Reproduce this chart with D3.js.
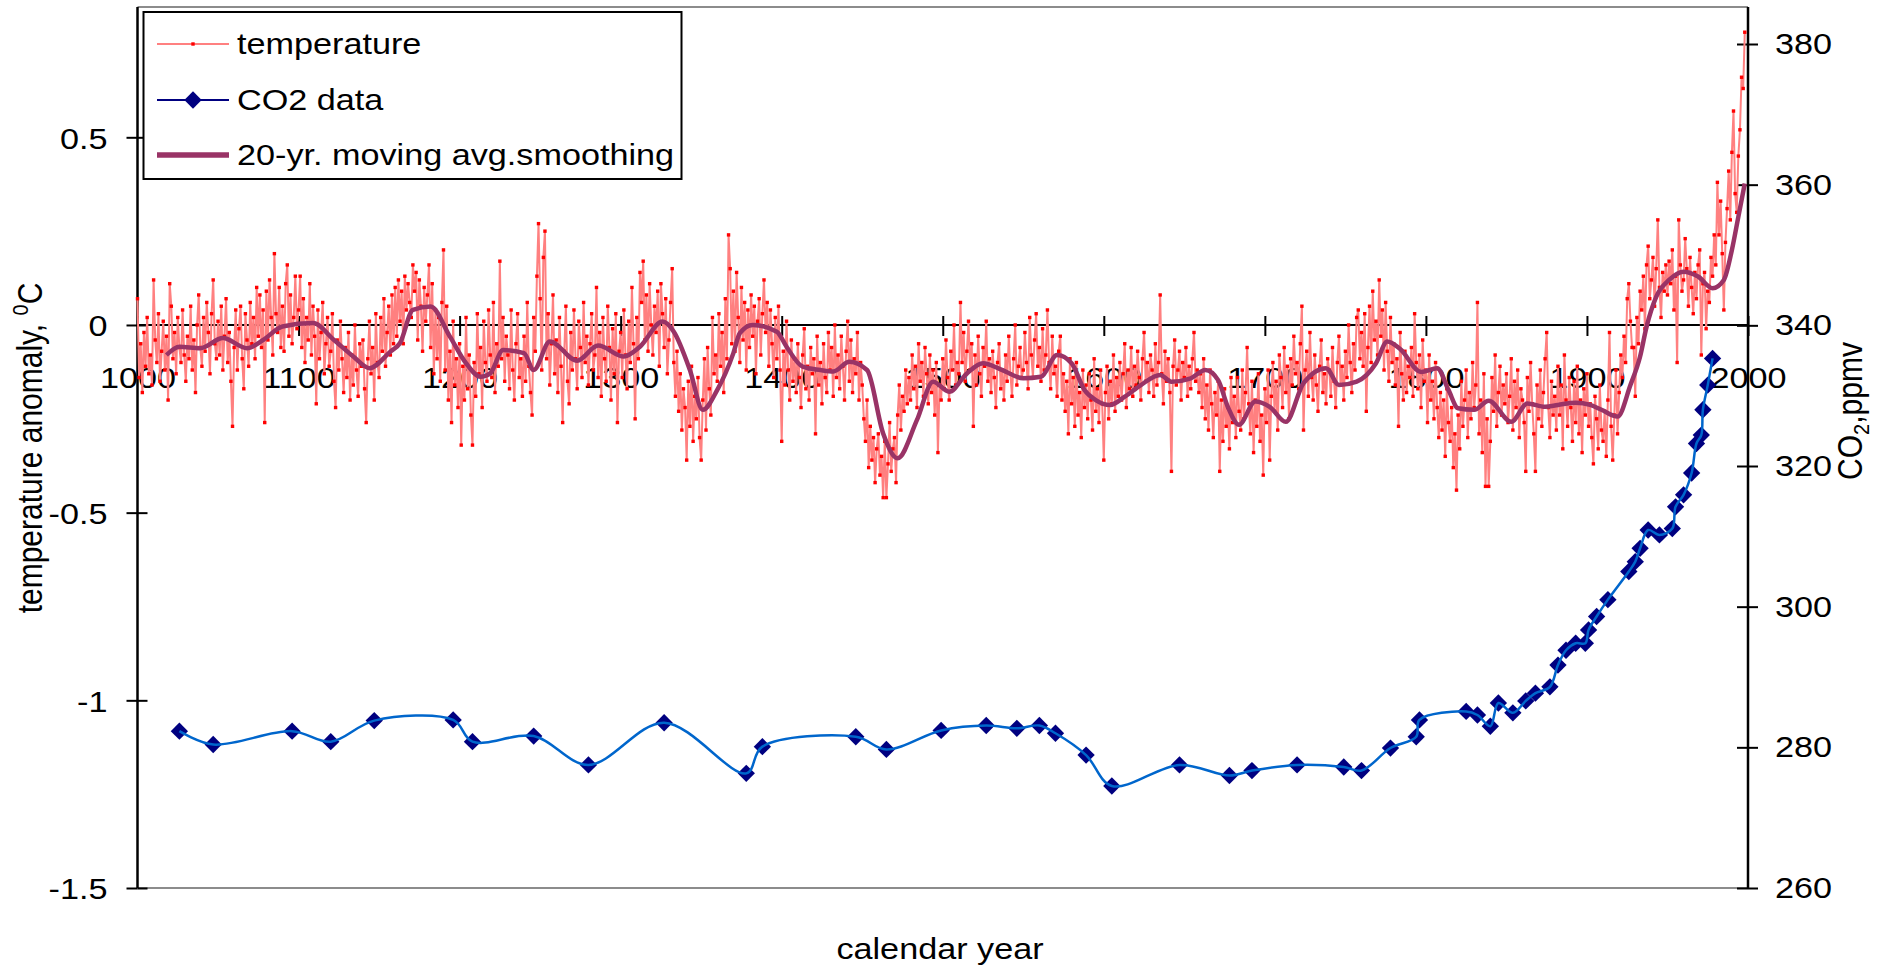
<!DOCTYPE html>
<html>
<head>
<meta charset="utf-8">
<script src="https://cdn.jsdelivr.net/npm/d3@7"></script>
<style>
  body { margin: 0; background: #fff; }
  svg text { font-family: "Liberation Sans", Arial, sans-serif; font-size: 30px; fill: #000; }
</style>
</head>
<body>
<div id="chart"></div>
<script>
////////////////////////////////////////////////////////////////////////
// Data

// annual temperature anomaly, first value is year 1000
let tempStartYear = 1000;
let tempValues = [
  0.07, -0.14, -0.05, -0.18, -0.02, -0.11, 0.02, -0.13, -0.08, -0.16,
  0.12, -0.04, -0.10, 0.03, -0.15, -0.07, 0.01, -0.12, -0.03, -0.20,
  0.11, 0.05, -0.09, -0.02, -0.13, 0.02, -0.06, -0.10, 0.04, -0.08,
  -0.15, -0.03, -0.09, 0.05, -0.12, -0.04, -0.18, 0.00, 0.08, -0.06,
  -0.11, 0.02, -0.07, 0.06, -0.02, -0.13, 0.03, 0.12, -0.05, -0.09,
  0.01, -0.08, 0.05, -0.12, -0.03, 0.07, -0.10, -0.02, -0.15, -0.27,
  -0.06, 0.04, -0.12, -0.01, 0.05, -0.09, -0.17, 0.03, -0.04, -0.11,
  0.06, -0.05, 0.02, -0.09, 0.10, -0.03, 0.08, -0.06, 0.04, -0.26,
  0.09, -0.04, 0.12, 0.02, -0.08, 0.19, 0.03, -0.02, 0.10, -0.06,
  0.05, -0.07, 0.11, 0.16, -0.03, 0.08, -0.05, 0.02, 0.13, -0.01,
  0.04, 0.13, -0.06, 0.07, -0.10, 0.02, -0.04, 0.11, -0.08, 0.05,
  -0.03, -0.21, 0.04, -0.09, -0.02, 0.06, -0.13, -0.05, 0.02, -0.11,
  -0.07, 0.03, -0.15, -0.22, -0.04, -0.12, 0.01, -0.09, -0.18, -0.06,
  -0.14, -0.02, -0.20, -0.08, -0.16, 0.00, -0.12, -0.19, -0.05, -0.11,
  -0.04, -0.17, -0.26, -0.09, 0.01, -0.13, -0.06, -0.20, 0.03, -0.10,
  -0.14, 0.02, -0.07, 0.07, -0.11, -0.02, 0.05, -0.08, 0.08, -0.05,
  0.10, -0.03, 0.12, 0.01, 0.09, -0.05, 0.13, 0.04, 0.11, 0.06,
  0.02, 0.16, 0.09, 0.14, -0.04, 0.12, 0.05, -0.07, 0.10, 0.01,
  0.08, 0.16, -0.06, 0.11, -0.13, 0.04, -0.09, 0.02, -0.15, 0.06,
  0.20, -0.12, 0.05, -0.20, -0.07, -0.26, 0.01, -0.16, -0.09, -0.22,
  -0.05, -0.32, -0.11, -0.20, 0.02, -0.17, -0.08, -0.24, -0.32, -0.10,
  -0.19, 0.03, -0.13, -0.06, -0.22, 0.01, -0.10, -0.15, 0.04, -0.08,
  -0.14, 0.06, -0.18, -0.05, -0.11, 0.17, -0.09, 0.02, -0.15, -0.03,
  -0.08, -0.17, 0.04, -0.12, -0.20, -0.05, 0.03, -0.14, -0.09, -0.19,
  -0.03, -0.15, 0.06, -0.11, -0.18, -0.24, 0.02, -0.07, 0.13, 0.27,
  0.07, -0.12, 0.18, 0.25, -0.09, 0.03, -0.16, -0.05, 0.08, -0.13,
  -0.04, -0.18, 0.02, -0.11, -0.26, -0.07, 0.05, -0.15, -0.21, -0.02,
  -0.12, 0.04, -0.09, -0.17, 0.01, -0.06, -0.14, 0.06, -0.10, -0.03,
  -0.16, -0.05, 0.03, -0.12, -0.08, 0.10, -0.14, -0.02, -0.19, 0.02,
  -0.09, -0.15, 0.05, -0.06, -0.20, -0.01, -0.13, 0.03, -0.26, -0.07,
  -0.02, -0.14, 0.04, -0.08, -0.17, 0.01, -0.10, 0.10, -0.05, -0.25,
  0.02, -0.09, 0.14, 0.06, 0.17, -0.04, 0.08, -0.07, 0.11, 0.00,
  -0.08, 0.05, -0.02, 0.09, -0.11, 0.11, 0.03, -0.06, 0.07, -0.13,
  -0.04, 0.06, 0.15, -0.10, -0.19, -0.07, -0.23, -0.13, -0.28, -0.17,
  -0.22, -0.36, -0.15, -0.27, -0.11, -0.31, -0.19, -0.25, -0.14, -0.30,
  -0.36, -0.20, -0.09, -0.28, -0.06, -0.17, -0.24, 0.02, -0.13, -0.08,
  -0.15, 0.03, -0.11, -0.02, -0.18, 0.07, -0.09, 0.24, 0.15, -0.05,
  0.09, -0.07, 0.14, 0.02, -0.10, 0.10, -0.04, 0.06, -0.12, 0.04,
  -0.06, 0.08, -0.03, 0.05, -0.13, 0.01, 0.07, -0.08, 0.03, 0.12,
  -0.02, 0.06, -0.11, 0.04, -0.05, -0.14, 0.02, -0.09, 0.05, -0.12,
  -0.31, -0.07, -0.16, 0.01, -0.12, -0.20, -0.04, -0.15, -0.09, -0.18,
  -0.05, -0.14, -0.22, -0.08, -0.01, -0.17, -0.11, -0.20, -0.06, -0.13,
  -0.09, -0.29, -0.03, -0.16, -0.10, -0.21, -0.05, -0.14, -0.18, -0.02,
  -0.12, -0.06, -0.19, 0.00, -0.14, -0.08, -0.17, -0.03, -0.11, -0.20,
  -0.07, 0.01, -0.15, -0.04, -0.18, -0.09, -0.13, -0.02, -0.20, -0.10,
  -0.16, -0.25, -0.31, -0.20, -0.38, -0.27, -0.36, -0.30, -0.42, -0.33,
  -0.29, -0.40, -0.35, -0.46, -0.31, -0.46, -0.37, -0.26, -0.39, -0.33,
  -0.30, -0.42, -0.24, -0.16, -0.28, -0.19, -0.23, -0.12, -0.21, -0.14,
  -0.20, -0.08, -0.17, -0.11, -0.22, -0.05, -0.15, -0.10, -0.19, -0.06,
  -0.13, -0.21, -0.08, -0.18, -0.12, -0.24, -0.10, -0.34, -0.16, -0.20,
  -0.09, -0.17, -0.04, -0.14, -0.20, -0.07, -0.12, 0.00, -0.16, -0.10,
  -0.13, 0.06, -0.10, -0.02, -0.15, -0.07, 0.01, -0.12, -0.05, -0.27,
  -0.08, -0.16, -0.03, -0.13, -0.19, -0.06, -0.11, 0.01, -0.15, -0.09,
  -0.18, -0.07, -0.14, -0.22, -0.10, -0.05, -0.17, -0.12, -0.20, -0.08,
  -0.15, -0.03, -0.13, -0.19, -0.09, 0.00, -0.16, -0.11, -0.06, -0.14,
  -0.12, -0.02, -0.10, -0.17, 0.02, -0.08, -0.14, -0.04, 0.03, -0.11,
  -0.06, -0.15, -0.01, -0.12, -0.08, 0.04, -0.10, -0.17, -0.03, -0.13,
  -0.11, -0.19, -0.07, -0.03, -0.20, -0.13, -0.23, -0.15, -0.29, -0.09,
  -0.21, -0.14, -0.27, -0.10, -0.24, -0.18, -0.30, -0.12, -0.22, -0.16,
  -0.25, -0.13, -0.20, -0.28, -0.09, -0.23, -0.17, -0.26, -0.12, -0.21,
  -0.36, -0.18, -0.11, -0.25, -0.15, -0.21, -0.08, -0.23, -0.14, -0.19,
  -0.10, -0.20, -0.13, -0.05, -0.22, -0.12, -0.17, -0.06, -0.19, -0.11,
  -0.16, -0.07, -0.14, -0.20, -0.09, -0.02, -0.15, -0.10, -0.18, -0.08,
  -0.12, -0.19, -0.05, -0.16, -0.10, 0.08, -0.13, -0.21, -0.07, -0.15,
  -0.09, -0.18, -0.39, -0.11, -0.04, -0.16, -0.12, -0.07, -0.20, -0.10,
  -0.14, -0.06, -0.19, -0.11, -0.17, -0.09, -0.02, -0.15, -0.12, -0.18,
  -0.13, -0.22, -0.09, -0.25, -0.16, -0.28, -0.12, -0.21, -0.30, -0.18,
  -0.24, -0.15, -0.39, -0.20, -0.31, -0.17, -0.27, -0.22, -0.33, -0.14,
  -0.26, -0.19, -0.30, -0.14, -0.23, -0.28, -0.12, -0.25, -0.18, -0.06,
  -0.21, -0.29, -0.15, -0.34, -0.20, -0.27, -0.13, -0.31, -0.24, -0.40,
  -0.17, -0.26, -0.12, -0.36, -0.19, -0.10, -0.23, -0.15, -0.28, -0.08,
  -0.14, -0.22, -0.06, -0.18, -0.11, -0.25, -0.09, -0.16, -0.03, -0.13,
  -0.10, -0.17, -0.05, 0.05, -0.28, -0.12, -0.07, -0.19, -0.02, -0.14,
  -0.20, -0.08, -0.16, -0.23, -0.11, -0.04, -0.18, -0.13, -0.21, -0.09,
  -0.12, -0.19, -0.06, -0.15, -0.22, -0.10, -0.03, -0.16, -0.11, -0.20,
  -0.07, -0.14, 0.00, -0.10, -0.18, -0.05, -0.12, 0.02, 0.04, -0.09,
  -0.02, -0.11, 0.03, -0.23, -0.06, 0.05, -0.10, 0.09, -0.04, 0.01,
  -0.08, 0.12, -0.03, 0.04, -0.12, 0.06, -0.07, -0.15, 0.02, -0.10,
  -0.05, -0.16, -0.09, -0.27, -0.02, -0.13, -0.20, -0.07, -0.18, -0.11,
  -0.14, -0.06, -0.19, 0.03, -0.10, -0.17, -0.08, -0.22, -0.04, -0.15,
  -0.12, -0.26, -0.08, -0.20, -0.15, -0.25, -0.10, -0.22, -0.30, -0.18,
  -0.28, -0.20, -0.35, -0.17, -0.26, -0.31, -0.22, -0.38, -0.29, -0.44,
  -0.24, -0.33, -0.15, -0.27, -0.20, -0.12, -0.30, -0.18, -0.25, -0.10,
  -0.22, -0.16, 0.06, -0.29, -0.20, -0.34, -0.13, -0.43, -0.25, -0.43,
  -0.31, -0.14, -0.23, -0.08, -0.27, -0.18, -0.11, -0.24, -0.16, -0.21,
  -0.13, -0.26, -0.19, -0.09, -0.28, -0.15, -0.22, -0.12, -0.30, -0.17,
  -0.20, -0.26, -0.39, -0.14, -0.23, -0.10, -0.21, -0.29, -0.39, -0.16,
  -0.25, -0.12, -0.27, -0.18, -0.09, -0.02, -0.22, -0.30, -0.15, -0.24,
  -0.19, -0.28, -0.11, -0.24, -0.16, -0.33, -0.08, -0.20, -0.27, -0.14,
  -0.22, -0.31, -0.15, -0.26, -0.11, -0.29, -0.20, -0.34, -0.17, -0.24,
  -0.13, -0.27, -0.21, -0.30, -0.37, -0.19, -0.25, -0.33, -0.16, -0.28,
  -0.31, -0.23, -0.35, -0.20, -0.02, -0.27, -0.36, -0.24, -0.12, -0.29,
  -0.18, -0.08, -0.14, -0.03, -0.10, 0.07, 0.11, 0.01, -0.06, -0.06,
  -0.19, 0.02, -0.05, 0.09, 0.04, 0.13, -0.01, 0.16, 0.21, 0.07,
  0.12, 0.18, 0.05, 0.15, 0.28, 0.10, 0.02, 0.14, 0.09, 0.16,
  0.08, 0.17, 0.11, 0.20, 0.04, 0.13, -0.10, 0.28, 0.16, 0.09,
  0.12, 0.23, 0.15, 0.05, 0.18, 0.10, 0.03, 0.14, 0.07, 0.16,
  0.20, -0.08, 0.11, 0.14, -0.01, 0.09, 0.06, 0.18, 0.13, 0.24,
  0.16, 0.38, 0.24, 0.33, 0.19, 0.04, 0.22, 0.31, 0.41, 0.28,
  0.46, 0.57, 0.35, 0.30, 0.45, 0.52, 0.66, 0.63, 0.78
];

// 20-yr moving average line, [year, value]
let smoothPoints = [
  [1018,-0.08],[1026,-0.058],[1039,-0.062],[1053,-0.035],[1068,-0.062],[1078,-0.04],
  [1090,-0.004],[1109,0.005],[1122,-0.04],[1134,-0.084],[1144,-0.115],[1157,-0.071],
  [1163,-0.048],[1171,0.04],[1182,0.049],[1194,-0.031],[1204,-0.102],[1213,-0.138],
  [1219,-0.129],[1227,-0.067],[1240,-0.075],[1246,-0.12],[1256,-0.044],[1273,-0.095],
  [1286,-0.055],[1302,-0.084],[1312,-0.058],[1326,0.009],[1333,-0.018],[1343,-0.12],
  [1351,-0.226],[1360,-0.173],[1370,-0.075],[1374,-0.022],[1382,0.0],[1397,-0.018],
  [1403,-0.058],[1413,-0.111],[1424,-0.12],[1432,-0.124],[1442,-0.098],[1453,-0.12],
  [1463,-0.289],[1472,-0.355],[1484,-0.253],[1494,-0.151],[1504,-0.178],[1515,-0.129],
  [1525,-0.102],[1536,-0.118],[1550,-0.142],[1561,-0.138],[1571,-0.08],[1580,-0.102],
  [1588,-0.173],[1595,-0.2],[1604,-0.213],[1613,-0.191],[1623,-0.16],[1635,-0.133],
  [1642,-0.151],[1654,-0.142],[1663,-0.12],[1671,-0.147],[1677,-0.218],[1684,-0.266],
  [1694,-0.204],[1703,-0.218],[1713,-0.258],[1724,-0.155],[1738,-0.115],[1746,-0.16],
  [1757,-0.151],[1769,-0.102],[1776,-0.044],[1784,-0.064],[1797,-0.125],[1807,-0.115],
  [1814,-0.173],[1820,-0.222],[1830,-0.226],[1839,-0.202],[1853,-0.258],[1863,-0.209],
  [1874,-0.218],[1882,-0.213],[1893,-0.207],[1902,-0.213],[1909,-0.226],[1919,-0.244],
  [1927,-0.16],[1933,-0.084],[1937,-0.005],[1943,0.075],[1951,0.12],[1960,0.142],
  [1969,0.129],[1978,0.098],[1985,0.12],[1990,0.2],[1994,0.288],[1998,0.377]
];

// CO2 ice core / air data, [year, ppmv]
let co2Points = [
  [1026,282.3],[1047,280.4],[1096,282.3],[1120,280.8],[1147,283.8],[1196,283.9],
  [1208,280.8],[1246,281.6],[1280,277.5],[1327,283.5],[1378,276.3],[1388,280.1],
  [1446,281.5],[1465,279.7],[1499,282.4],[1527,283.1],[1546,282.7],[1560,283.1],
  [1570,282.0],[1589,278.9],[1605,274.5],[1647,277.5],[1678,276.0],[1692,276.7],
  [1720,277.5],[1749,277.2],[1760,276.7],[1778,279.9],[1794,281.5],[1796,283.9],
  [1825,285.1],[1832,284.6],[1840,283.0],[1845,286.3],[1854,284.9],[1862,286.6],
  [1868,287.7],[1877,288.6],[1882,291.7],[1887,293.8],[1893,294.8],[1899,294.8],
  [1901,296.7],[1906,298.6],[1913,301.0],[1926,305.0],[1930,306.4],[1933,308.3],
  [1938,310.9],[1945,310.2],[1953,311.1],[1955,314.2],[1960,315.9],[1965,319.0],
  [1968,323.2],[1971,324.4],[1972,328.0],[1975,331.5],[1978,335.3]
];

let yearTicks = d3.range(1000, 2001, 100);
let tempTicks = [0.5, 0, -0.5, -1, -1.5];
let co2Ticks = [260, 280, 300, 320, 340, 360, 380];
let legendLabels = ["temperature", "CO2 data", "20-yr. moving avg.smoothing"];

////////////////////////////////////////////////////////////////////////
// Scales and svg

let width = 1877, height = 967;
let plotTop = 7, plotBottom = 888;
let stretch = 1.14;   // the lettering in the picture is drawn a bit wide

let xScale = d3.scaleLinear().domain([1000, 2000]).range([137.5, 1748]);
let tScale = d3.scaleLinear().domain([-1.5, 0.5]).range([888, 137.3]);
let cScale = d3.scaleLinear().domain([260, 380]).range([888, 44]);

let svg = d3.select("#chart")
  .append("svg")
  .attr("width", width)
  .attr("height", height);

svg.append("rect").attr("width", width).attr("height", height).attr("fill", "#fff");

// widen horizontal text without moving its anchor
function stretchText(sel) {
  sel.each(function() {
    let t = d3.select(this);
    let x = +t.attr("x") || 0;
    t.attr("x", x / stretch).attr("transform", "scale(" + stretch + ",1)");
  });
}

// grey plot border at top and bottom
svg.append("line")
  .attr("x1", xScale(1000)).attr("x2", xScale(2000))
  .attr("y1", plotTop).attr("y2", plotTop)
  .attr("stroke", "#8c8c8c").attr("stroke-width", 2);
svg.append("line")
  .attr("x1", xScale(1000)).attr("x2", xScale(2000))
  .attr("y1", plotBottom).attr("y2", plotBottom)
  .attr("stroke", "#8c8c8c").attr("stroke-width", 2);

function styleAxis(g) {
  g.select(".domain").remove();
  g.selectAll(".tick line").attr("stroke", "#000").attr("stroke-width", 2);
  g.attr("font-size", null).attr("font-family", null);
  g.selectAll("text").call(stretchText);
}

// left axis (temperature)
svg.append("g")
  .attr("transform", "translate(" + xScale(1000) + ",0)")
  .call(d3.axisLeft(tScale).tickValues(tempTicks).tickSize(11).tickPadding(19)
        .tickFormat(function(d) { return String(d); }))
  .call(styleAxis)
  .selectAll("text").attr("dy", "0.36em");
svg.append("g")
  .attr("transform", "translate(" + xScale(1000) + ",0)")
  .call(d3.axisRight(tScale).tickValues(tempTicks).tickSize(10).tickFormat(""))
  .call(styleAxis);
svg.append("line")
  .attr("x1", xScale(1000)).attr("x2", xScale(1000))
  .attr("y1", plotTop).attr("y2", plotBottom)
  .attr("stroke", "#000").attr("stroke-width", 2.5);

// right axis (CO2)
svg.append("g")
  .attr("transform", "translate(" + xScale(2000) + ",0)")
  .call(d3.axisRight(cScale).tickValues(co2Ticks).tickSize(10).tickPadding(17)
        .tickFormat(function(d) { return String(d); }))
  .call(styleAxis);
svg.append("g")
  .attr("transform", "translate(" + xScale(2000) + ",0)")
  .call(d3.axisLeft(cScale).tickValues(co2Ticks).tickSize(11).tickFormat(""))
  .call(styleAxis);
svg.append("line")
  .attr("x1", xScale(2000)).attr("x2", xScale(2000))
  .attr("y1", plotTop).attr("y2", plotBottom)
  .attr("stroke", "#000").attr("stroke-width", 2.5);

// year axis crosses at temperature 0
svg.append("g")
  .attr("transform", "translate(0," + tScale(0) + ")")
  .call(d3.axisBottom(xScale).tickValues(yearTicks).tickSize(11).tickPadding(31)
        .tickFormat(function(d) { return String(d); }))
  .call(styleAxis);
svg.append("g")
  .attr("transform", "translate(0," + tScale(0) + ")")
  .call(d3.axisTop(xScale).tickValues(yearTicks).tickSize(9).tickFormat(""))
  .call(styleAxis);
svg.append("line")
  .attr("x1", xScale(1000)).attr("x2", xScale(2000))
  .attr("y1", tScale(0)).attr("y2", tScale(0))
  .attr("stroke", "#000").attr("stroke-width", 2);

////////////////////////////////////////////////////////////////////////
// Series

let tempData = tempValues.map(function(v, i) { return [tempStartYear + i, v]; });

let tempLine = d3.line()
  .x(function(d) { return xScale(d[0]); })
  .y(function(d) { return tScale(d[1]); });

svg.append("path")
  .datum(tempData)
  .attr("d", tempLine)
  .attr("fill", "none")
  .attr("stroke", "#ff8080")
  .attr("stroke-width", 2)
  .attr("stroke-linejoin", "round");

svg.append("g")
  .selectAll("rect")
  .data(tempData)
  .enter()
  .append("rect")
  .attr("x", function(d) { return xScale(d[0]) - 1.7; })
  .attr("y", function(d) { return tScale(d[1]) - 1.7; })
  .attr("width", 3.4)
  .attr("height", 3.4)
  .attr("fill", "#ff0000");

svg.append("path")
  .datum(smoothPoints)
  .attr("d", tempLine.curve(d3.curveMonotoneX))
  .attr("fill", "none")
  .attr("stroke", "#993366")
  .attr("stroke-width", 4.5)
  .attr("stroke-linejoin", "round");

let diamond = d3.symbol().type(d3.symbolSquare).size(150);

svg.append("g")
  .selectAll("path")
  .data(co2Points)
  .enter()
  .append("path")
  .attr("transform", function(d) {
    return "translate(" + xScale(d[0]) + "," + cScale(d[1]) + ") rotate(45)";
  })
  .attr("d", diamond)
  .attr("fill", "#000080");

let co2Line = d3.line()
  .x(function(d) { return xScale(d[0]); })
  .y(function(d) { return cScale(d[1]); })
  .curve(d3.curveCatmullRom.alpha(0.5));

svg.append("path")
  .datum(co2Points)
  .attr("d", co2Line)
  .attr("fill", "none")
  .attr("stroke", "#0066cc")
  .attr("stroke-width", 2.5);

////////////////////////////////////////////////////////////////////////
// Legend

let legend = svg.append("g");
legend.append("rect")
  .attr("x", 143.5).attr("y", 12)
  .attr("width", 538).attr("height", 167)
  .attr("fill", "#fff").attr("stroke", "#000").attr("stroke-width", 2);

let rowY = [44, 100, 155];
let rowColor = ["#ff8080", "#000080", "#993366"];
let rowWidth = [2, 2, 5.5];

legend.selectAll("line.key")
  .data(legendLabels)
  .enter()
  .append("line")
  .attr("x1", 157).attr("x2", 229)
  .attr("y1", function(d, i) { return rowY[i]; })
  .attr("y2", function(d, i) { return rowY[i]; })
  .attr("stroke", function(d, i) { return rowColor[i]; })
  .attr("stroke-width", function(d, i) { return rowWidth[i]; });

legend.append("rect")
  .attr("x", 191.3).attr("y", rowY[0] - 1.7)
  .attr("width", 3.4).attr("height", 3.4)
  .attr("fill", "#ff0000");
legend.append("path")
  .attr("transform", "translate(193," + rowY[1] + ") rotate(45)")
  .attr("d", diamond)
  .attr("fill", "#000080");

legend.selectAll("text")
  .data(legendLabels)
  .enter()
  .append("text")
  .attr("x", 237)
  .attr("y", function(d, i) { return rowY[i] + 10.5; })
  .text(function(d) { return d; })
  .call(stretchText);

////////////////////////////////////////////////////////////////////////
// Axis titles

let leftTitle = svg.append("text")
  .attr("transform", "translate(42,448) rotate(-90) scale(1," + stretch + ")")
  .attr("text-anchor", "middle");
leftTitle.append("tspan").text("temperature anomaly, ");
leftTitle.append("tspan").style("font-size", "20px").attr("dy", -12).text("0");
leftTitle.append("tspan").attr("dy", 12).text("C");

let rightTitle = svg.append("text")
  .attr("transform", "translate(1862,411) rotate(-90) scale(1," + stretch + ")")
  .attr("text-anchor", "middle");
rightTitle.append("tspan").text("CO");
rightTitle.append("tspan").style("font-size", "20px").attr("dy", 6).text("2");
rightTitle.append("tspan").attr("dy", -6).text(",ppmv");

svg.append("text")
  .attr("x", 940).attr("y", 959)
  .attr("text-anchor", "middle")
  .text("calendar year")
  .call(stretchText);
</script>
</body>
</html>
